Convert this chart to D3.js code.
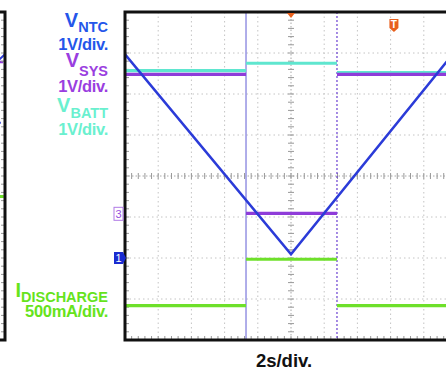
<!DOCTYPE html>
<html>
<head>
<meta charset="utf-8">
<script src="https://cdn.jsdelivr.net/npm/d3@7/dist/d3.min.js"></script>
<style>
  body { margin: 0; background: #fff; }
  svg { display: block; font-family: "Liberation Sans", Arial, sans-serif; font-weight: bold; }
  .grid { stroke: #c4c4c4; stroke-width: 1; stroke-dasharray: 1.5,3; fill: none; }
  .axis-line { stroke: #a8a8a8; stroke-width: 1; stroke-dasharray: 1.5,2; }
  .tick { stroke: #999; stroke-width: 1; }
  .frame { stroke: #111; stroke-width: 3; fill: none; }
  .trace { fill: none; stroke-linecap: butt; }
</style>
</head>
<body>
<div id="chart"></div>
<script>
// time axis: 2 s/div, 10 divisions; vertical: 8 divisions
const timeDomain = [-10, 10];
const divDomain = [-4, 4];

// cursors (s)
const cursorA = -2.71;
const cursorB = 2.77;

// V_NTC ramp (time in s, level in divisions)
const ntcTimes = [-10, 0, 10];
const ntcLevels = [2.97, -1.91, 3.1];

// step traces: segment edges in s, one level per segment (divisions)
const stepEdges = [-10, cursorA, cursorB, 10];
const battLevels = [2.57, 2.75, 2.52];
const sysLevels = [2.48, -0.91, 2.48];
const dischargeLevels = [-3.16, -2.03, -3.16];

// labels
const labels = [
  { main: "V", sub: "NTC", scale: "1V/div.", color: "#2456ea" },
  { main: "V", sub: "SYS", scale: "1V/div.", color: "#9a3ee0" },
  { main: "V", sub: "BATT", scale: "1V/div.", color: "#6af0cf" },
  { main: "I", sub: "DISCHARGE", scale: "500mA/div.", color: "#66e31c" }
];
const timeLabel = "2s/div.";

const width = 446, height = 371;
const svg = d3.select("#chart").append("svg")
  .attr("width", width).attr("height", height);

const x = d3.scaleLinear().domain(timeDomain).range([125, 457]);
const y = d3.scaleLinear().domain(divDomain).range([340, 12]);

svg.append("defs").append("clipPath").attr("id", "plot")
  .append("rect").attr("x", 126).attr("y", 13).attr("width", 340).attr("height", 326);

const plot = svg.append("g");

// dotted grid
const gridT = d3.range(-8, 10, 2).filter(d => d !== 0);
const gridV = d3.range(-3, 4, 1).filter(d => d !== 0);
plot.selectAll(".gv").data(gridT).enter().append("line")
  .attr("class", "grid")
  .attr("x1", d => x(d)).attr("x2", d => x(d))
  .attr("y1", y(4)).attr("y2", y(-4));
plot.selectAll(".gh").data(gridV).enter().append("line")
  .attr("class", "grid")
  .attr("x1", x(-10)).attr("x2", x(10))
  .attr("y1", d => y(d)).attr("y2", d => y(d));

// center cross with minor ticks
plot.append("line").attr("class", "axis-line")
  .attr("x1", x(0)).attr("x2", x(0)).attr("y1", y(4)).attr("y2", y(-4));
plot.append("line").attr("class", "axis-line")
  .attr("x1", x(-10)).attr("x2", x(10)).attr("y1", y(0)).attr("y2", y(0));
const minorT = d3.range(-10, 10.01, 0.4);
const minorV = d3.range(-4, 4.01, 0.2);
plot.selectAll(".mt").data(minorT).enter().append("line")
  .attr("class", "tick")
  .attr("x1", d => x(d)).attr("x2", d => x(d))
  .attr("y1", y(0) - 3).attr("y2", y(0) + 3);
plot.selectAll(".mv").data(minorV).enter().append("line")
  .attr("class", "tick")
  .attr("x1", x(0) - 3).attr("x2", x(0) + 3)
  .attr("y1", d => y(d)).attr("y2", d => y(d));
// border ticks
plot.selectAll(".bt").data(minorT).enter().append("line")
  .attr("class", "tick")
  .attr("x1", d => x(d)).attr("x2", d => x(d))
  .attr("y1", y(-4) - 4).attr("y2", y(-4));
plot.selectAll(".bl").data(minorV).enter().append("line")
  .attr("class", "tick")
  .attr("x1", x(-10)).attr("x2", x(-10) + 4)
  .attr("y1", d => y(d)).attr("y2", d => y(d));

// cursors
plot.append("line")
  .attr("x1", x(cursorA)).attr("x2", x(cursorA)).attr("y1", y(4)).attr("y2", y(-4))
  .attr("stroke", "#7b78dc").attr("stroke-width", 1.2);
plot.append("line")
  .attr("x1", x(cursorB)).attr("x2", x(cursorB)).attr("y1", y(4)).attr("y2", y(-4))
  .attr("stroke", "#6a3fd0").attr("stroke-width", 1.2).attr("stroke-dasharray", "2,2");

// traces
const traces = svg.append("g").attr("clip-path", "url(#plot)");
const line = d3.line().x(d => x(d[0])).y(d => y(d[1]));

function steps(levels) {
  return levels.map((v, i) => [[stepEdges[i], v], [stepEdges[i + 1], v]]);
}
const stepSeries = [
  { levels: battLevels, color: "#5fe6cf" },
  { levels: sysLevels, color: "#8f3cd9" },
  { levels: dischargeLevels, color: "#6ee02a" }
];
stepSeries.forEach(s => {
  traces.selectAll(null).data(steps(s.levels)).enter().append("path")
    .attr("class", "trace")
    .attr("d", line)
    .attr("stroke", s.color).attr("stroke-width", 3.2);
});
traces.append("path")
  .datum(ntcTimes.map((t, i) => [t, ntcLevels[i]]))
  .attr("class", "trace")
  .attr("d", line)
  .attr("stroke", "#2b3bd8").attr("stroke-width", 2.6);

// frame
svg.append("path").attr("class", "frame")
  .attr("d", `M${width + 5},${y(4)}H${x(-10)}V${y(-4)}H${width + 5}`);

// trigger markers
svg.append("path")
  .attr("d", `M${x(0) - 4},${y(4) + 1}h8l-4,5z`)
  .attr("fill", "#e8601c");
const tx = x(6.2);
svg.append("path")
  .attr("d", `M${tx - 4.5},19h9v9l-4.5,4l-4.5,-4z`)
  .attr("fill", "#e8601c");
svg.append("text").attr("x", tx).attr("y", 28)
  .attr("text-anchor", "middle").attr("font-size", 10).attr("fill", "#fff").text("T");

// channel markers
const mk = svg.append("g");
mk.append("rect").attr("x", 114).attr("y", y(-0.91) - 6).attr("width", 9).attr("height", 13)
  .attr("fill", "#fff").attr("stroke", "#b07ae6").attr("stroke-width", 1);
mk.append("text").attr("x", 118.5).attr("y", y(-0.91) + 5).attr("text-anchor", "middle")
  .attr("font-size", 11).attr("font-weight", "normal").attr("fill", "#9a4ee0").text("3");
mk.append("path")
  .attr("d", `M114,${y(-2.0) - 6}h9l3,6l-3,6h-9z`)
  .attr("fill", "#1a2bd0");
mk.append("text").attr("x", 118.5).attr("y", y(-2.0) + 4).attr("text-anchor", "middle")
  .attr("font-size", 11).attr("font-weight", "normal").attr("fill", "#fff").text("1");

// left partial panel
const xl = d3.scaleLinear().domain([-2, 0]).range([-7, 5]);
const leftSegs = [
  { pts: [[-2, 2.7], [0, 2.97]], color: "#2b3bd8", w: 2 },
  { pts: [[-2, 2.78], [-0.3, 2.78]], color: "#8f3cd9", w: 2.5 },
  { pts: [[-1.6, 1.8], [-0.9, 1.8]], color: "#5fe6cf", w: 2 },
  { pts: [[-1.5, 1.3], [-0.7, 1.3]], color: "#2b3bd8", w: 2 },
  { pts: [[-2, -0.5], [-0.2, -0.5]], color: "#6ee02a", w: 3 }
];
const lineL = d3.line().x(d => xl(d[0])).y(d => y(d[1]));
svg.selectAll(".lseg").data(leftSegs).enter().append("path")
  .attr("class", "trace").attr("d", d => lineL(d.pts))
  .attr("stroke", d => d.color).attr("stroke-width", d => d.w);
svg.selectAll(".lt").data(minorV).enter().append("line")
  .attr("class", "tick")
  .attr("x1", 1).attr("x2", 5)
  .attr("y1", d => y(d)).attr("y2", d => y(d));
svg.append("path").attr("class", "frame")
  .attr("d", `M-5,${y(4)}H5V${y(-4)}H-5`);

// channel labels
const labelY = [
  { main: 27, sub: 32, scale: 50 },
  { main: 67, sub: 76, scale: 92 },
  { main: 112, sub: 118, scale: 135 },
  { main: 297, sub: 302, scale: 317 }
];
const lab = svg.append("g").attr("text-anchor", "end");
labels.forEach((l, i) => {
  const t = lab.append("text").attr("x", 108).attr("y", labelY[i].main).attr("fill", l.color);
  t.append("tspan").attr("font-size", 20).text(l.main);
  t.append("tspan").attr("font-size", 14.5).attr("dy", labelY[i].sub - labelY[i].main).text(l.sub);
  lab.append("text").attr("x", 108).attr("y", labelY[i].scale)
    .attr("fill", l.color).attr("font-size", 16.5).attr("letter-spacing", -0.3).text(l.scale);
});

svg.append("text").attr("x", 284).attr("y", 367)
  .attr("text-anchor", "middle").attr("font-size", 18.5).attr("fill", "#111")
  .text(timeLabel);
</script>
</body>
</html>
